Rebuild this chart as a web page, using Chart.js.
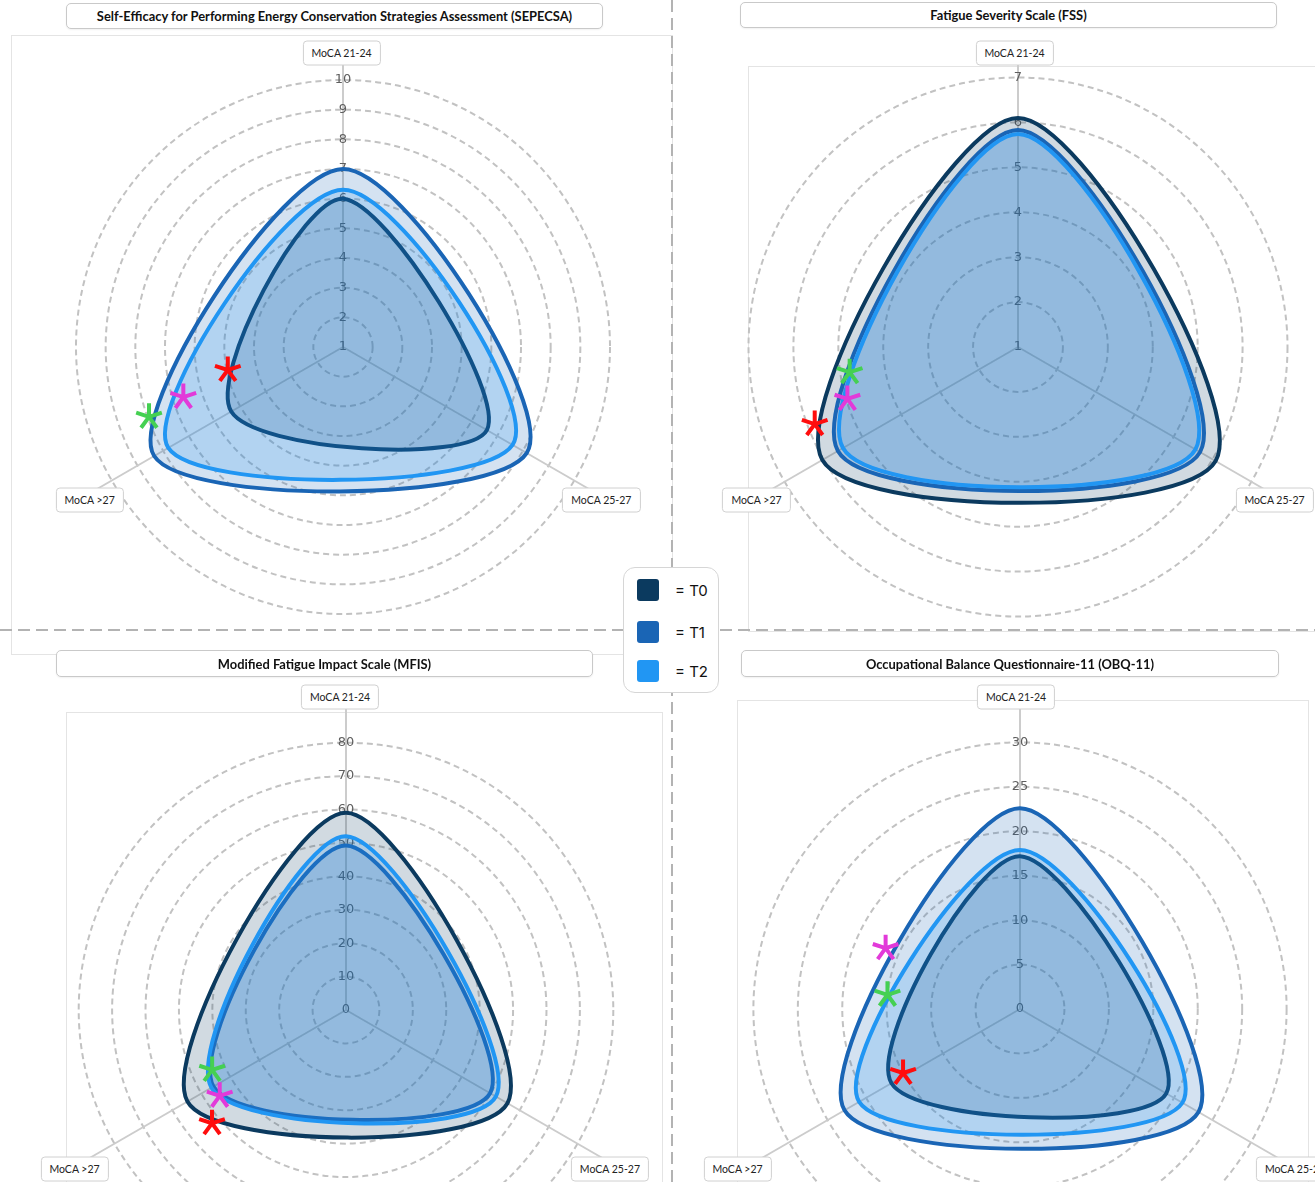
<!DOCTYPE html>
<html><head><meta charset="utf-8">
<script src="https://cdn.jsdelivr.net/npm/chart.js@4.4.0/dist/chart.umd.min.js"></script>
<style>
html,body{margin:0;padding:0;background:#fff;}
body{width:1315px;height:1182px;overflow:hidden;position:relative;font-family:Lato,sans-serif;}
.frame{position:absolute;border:1px solid #e4e4e4;box-sizing:border-box;}
.title{position:absolute;border:1px solid #c9c9c9;border-radius:5px;background:#fff;display:flex;align-items:center;justify-content:center;font-weight:700;font-size:12.9px;color:#111;box-sizing:border-box;box-shadow:0 1px 2px rgba(0,0,0,0.06);z-index:6;white-space:nowrap;}
.plabel{position:absolute;transform:translate(-50%,-50%);border:1px solid #d0d0d0;border-radius:4px;background:#fff;font-size:10.5px;color:#222;padding:0 8px;height:25px;line-height:23px;box-sizing:border-box;white-space:nowrap;z-index:5;}
canvas{position:absolute;}
.vdiv{position:absolute;left:671px;top:0;width:2px;height:1182px;background:repeating-linear-gradient(to bottom,#b3b3b3 0 12px,transparent 12px 18px);z-index:3;}
.hdiv{position:absolute;left:0;top:629px;width:1315px;height:2px;background:repeating-linear-gradient(to right,#b3b3b3 0 12px,transparent 12px 18px);z-index:3;}
.legend{position:absolute;left:623px;top:567px;width:96px;height:126px;background:#fff;border:1px solid #d6d6d6;border-radius:12px;box-sizing:border-box;z-index:10;font-family:Inter,sans-serif;}
.legend .row{position:absolute;left:13px;height:22px;display:flex;align-items:center;}
.legend .sw{width:22px;height:22px;border-radius:3px;margin-right:16px;}
.legend .tx{font-size:15px;color:#111;}
</style>
</head><body>
<div class="vdiv"></div>
<div class="hdiv"></div>
<script>
// ---------- data ----------
const axisLabels = ['MoCA 21-24', 'MoCA 25-27', 'MoCA >27'];
const seriesNames = ['T0', 'T1', 'T2'];

const sepecsaTitle = 'Self-Efficacy for Performing Energy Conservation Strategies Assessment (SEPECSA)';
const sepecsaTicks = [1, 2, 3, 4, 5, 6, 7, 8, 9, 10];
const sepecsaT0 = [6.0, 6.6, 5.35];
const sepecsaT1 = [7.0, 8.15, 8.35];
const sepecsaT2 = [6.3, 7.6, 7.8];
const sepecsaStarAxis = [2.156, 2.105, 2.085];
const sepecsaStarValue = [4.96, 6.64, 7.95];
const sepecsaStarKind = ['red', 'magenta', 'green'];

const fssTitle = 'Fatigue Severity Scale (FSS)';
const fssTicks = [1, 2, 3, 4, 5, 6, 7];
const fssT0 = [6.1, 6.08, 6.03];
const fssT1 = [5.83, 5.68, 5.63];
const fssT2 = [5.74, 5.56, 5.5];
const fssStarAxis = [2.179, 2.109, 2.077];
const fssStarValue = [4.79, 4.97, 5.84];
const fssStarKind = ['green', 'magenta', 'red'];

const mfisTitle = 'Modified Fatigue Impact Scale (MFIS)';
const mfisTicks = [0, 10, 20, 30, 40, 50, 60, 70, 80];
const mfisT0 = [59, 55.8, 54.8];
const mfisT1 = [49.2, 49.8, 45.8];
const mfisT2 = [52, 51.8, 46.5];
const mfisStarAxis = [2.049, 1.965, 1.915];
const mfisStarValue = [43.9, 45.7, 52.5];
const mfisStarKind = ['green', 'magenta', 'red'];

const obqTitle = 'Occupational Balance Questionnaire-11 (OBQ-11)';
const obqTicks = [0, 5, 10, 15, 20, 25, 30];
const obqT0 = [17.2, 19.0, 16.7];
const obqT1 = [22.6, 23.2, 22.8];
const obqT2 = [17.9, 21.1, 20.9];
const obqStarAxis = [2.453, 2.301, 2.011];
const obqStarValue = [16.6, 15.0, 15.0];
const obqStarKind = ['magenta', 'green', 'red'];

// ---------- styles ----------
const lineColors = ['#0b3a5f', '#1a65b5', '#2196f3'];
const fillColors = ['rgba(11,58,95,0.19)', 'rgba(26,101,181,0.19)', 'rgba(33,150,243,0.19)'];
const starColors = {red: '#ff0d0d', magenta: '#e23ad9', green: '#45d052'};
const tickFontSize = 13;

// ---------- layout ----------
const panels = [
  {title: sepecsaTitle, series: [sepecsaT0, sepecsaT1, sepecsaT2], ticks: sepecsaTicks,
   stars: [sepecsaStarAxis, sepecsaStarValue, sepecsaStarKind],
   cx: 343, cy: 347, D: 300, rTop: 267, labelR: [293.5, 307, 307], nudge: [-1, -7, 13],
   titleBox: [66, 3, 537, 26], frame: [11, 35, 662, 620]},
  {title: fssTitle, series: [fssT0, fssT1, fssT2], ticks: fssTicks,
   stars: [fssStarAxis, fssStarValue, fssStarKind],
   cx: 1018, cy: 347, D: 300, rTop: 269.5, labelR: [293.5, 306, 306], nudge: [-3, -8, 4],
   titleBox: [740, 2, 537, 26], frame: [748, 66, 600, 566]},
  {title: mfisTitle, series: [mfisT0, mfisT1, mfisT2], ticks: mfisTicks,
   stars: [mfisStarAxis, mfisStarValue, mfisStarKind],
   cx: 346, cy: 1010, D: 315, rTop: 267.3, labelR: [313, 318, 318], nudge: [-5.5, -11, 4.4],
   titleBox: [56, 650, 537, 27], frame: [66, 712, 597, 520]},
  {title: obqTitle, series: [obqT0, obqT1, obqT2], ticks: obqTicks,
   stars: [obqStarAxis, obqStarValue, obqStarKind],
   cx: 1020, cy: 1009, D: 315, rTop: 266.6, labelR: [312, 321, 321], nudge: [-3.5, -2.5, -4],
   titleBox: [741, 650, 538, 27], frame: [737, 700, 572, 520]}
];

function drawAsterisk(ctx, x, y, r, color) {
  ctx.save();
  ctx.strokeStyle = color;
  ctx.lineWidth = 4;
  ctx.lineCap = 'butt';
  ctx.beginPath();
  for (let k = 0; k < 5; k++) {
    const a = -Math.PI / 2 + k * 2 * Math.PI / 5;
    ctx.moveTo(x, y);
    ctx.lineTo(x + Math.cos(a) * r, y + Math.sin(a) * r);
  }
  ctx.stroke();
  ctx.restore();
}

function addDiv(cls, x, y, w, h, text) {
  const d = document.createElement('div');
  d.className = cls;
  d.style.left = x + 'px'; d.style.top = y + 'px';
  if (w != null) d.style.width = w + 'px';
  if (h != null) d.style.height = h + 'px';
  if (text != null) d.textContent = text;
  document.body.appendChild(d);
  return d;
}

panels.forEach(p => {
  addDiv('frame', p.frame[0], p.frame[1], p.frame[2], p.frame[3]);
  addDiv('title', p.titleBox[0], p.titleBox[1], p.titleBox[2], p.titleBox[3], p.title);

  // Chart.js reserves half the tick font height around the radial area
  const pad = tickFontSize / 2;
  const size = 2 * p.D + tickFontSize;
  const offX = p.cx - p.D - pad, offY = p.cy - p.D - pad;
  const cv = document.createElement('canvas');
  cv.width = size; cv.height = size;
  cv.style.left = offX + 'px';
  cv.style.top = offY + 'px';
  cv.style.width = size + 'px'; cv.style.height = size + 'px';
  cv.style.zIndex = 2;
  document.body.appendChild(cv);

  const tMin = p.ticks[0], tTop = p.ticks[p.ticks.length - 1];
  const maxExt = tMin + (tTop - tMin) * p.D / p.rTop;

  const starPlugin = {
    id: 'stars',
    afterDatasetsDraw(chart) {
      const s = chart.scales.r;
      const [ax, val, kind] = p.stars;
      ax.forEach((a, i) => {
        const pt = s.getPointPositionForValue(a, val[i]);
        drawAsterisk(chart.ctx, pt.x, pt.y, 13.5, starColors[kind[i]]);
      });
    }
  };

  const chart = new Chart(cv, {
    type: 'radar',
    data: {
      labels: axisLabels,
      datasets: p.series.map((vals, i) => ({
        label: seriesNames[i], data: vals,
        borderColor: lineColors[i], backgroundColor: fillColors[i],
        borderWidth: 4, pointRadius: 0, pointHoverRadius: 0,
        tension: 0.33, fill: 'start', order: 3 - i
      }))
    },
    options: {
      responsive: false, animation: false, devicePixelRatio: 1,
      layout: {padding: 0},
      plugins: {legend: {display: false}, tooltip: {enabled: false}},
      scales: {
        r: {
          min: tMin, max: maxExt, startAngle: 0,
          afterBuildTicks: s => {
            s.ticks = [{value: tMin}].concat(p.ticks.map(v => ({value: v})));
          },
          ticks: {display: true, showLabelBackdrop: false, backdropPadding: 0, color: '#5e5e5e',
                  font: {family: 'DejaVu Sans', size: tickFontSize}},
          grid: {circular: true, color: '#c2c2c2', lineWidth: 2},
          border: {dash: [6, 4]},
          angleLines: {color: '#cccccc', lineWidth: 2},
          pointLabels: {display: false}
        }
      }
    },
    plugins: [starPlugin]
  });

  const sc = chart.scales.r;
  axisLabels.forEach((lab, i) => {
    const pt = sc.getPointPosition(i, p.labelR[i]);
    addDiv('plabel', offX + pt.x + p.nudge[i], offY + pt.y, null, null, lab);
  });
});

// legend
const lg = addDiv('legend', 623, 567);
const legendTops = [11, 53, 92];
seriesNames.forEach((n, i) => {
  const row = document.createElement('div');
  row.className = 'row';
  row.style.top = legendTops[i] + 'px';
  const sw = document.createElement('div');
  sw.className = 'sw'; sw.style.background = lineColors[i];
  const tx = document.createElement('div');
  tx.className = 'tx'; tx.textContent = '= ' + n;
  row.appendChild(sw); row.appendChild(tx);
  lg.appendChild(row);
});
</script>
</body></html>
